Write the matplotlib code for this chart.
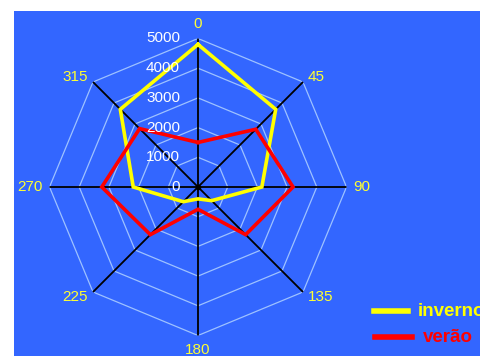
import numpy as np
import matplotlib
matplotlib.use("Agg")
import matplotlib.pyplot as plt
from matplotlib.patches import Rectangle

# Directions (degrees) and seasonal values
directions = [0, 45, 90, 135, 180, 225, 270, 315]
inverno = [4800, 3700, 2150, 650, 400, 700, 2180, 3700]
verao = [1500, 2750, 3200, 2270, 750, 2270, 3240, 2780]
ring_values = [0, 1000, 2000, 3000, 4000, 5000]
series_names = ["inverno", "verão"]

plt.rcParams["font.family"] = ["Liberation Sans", "DejaVu Sans"]

W, H, DPI = 481, 356, 100
fig = plt.figure(figsize=(W / DPI, H / DPI), dpi=DPI, facecolor="white")

panel_blue = "#3366FF"
grid_col = "#9EC2FF"
label_yellow = "#FFFF33"

# Blue plot panel behind everything
fig.patches.append(Rectangle((14 / W, 0), 1 - 14 / W, (H - 11) / H,
                             transform=fig.transFigure, facecolor=panel_blue,
                             edgecolor="none", zorder=-10))

cx, cy, rad = 198, 187, 148.5
ax = fig.add_axes([(cx - rad) / W, (H - cy - rad) / H, 2 * rad / W, 2 * rad / H],
                  projection="polar")
ax.set_zorder(1)
ax.set_theta_zero_location("N")
ax.set_theta_direction(-1)
ax.set_ylim(0, ring_values[-1])
ax.patch.set_visible(False)
ax.spines["polar"].set_visible(False)
ax.grid(False)
ax.set_xticks([])
ax.set_yticks([])

theta = np.deg2rad(directions)
theta_closed = np.append(theta, theta[0])

# Octagonal rings
for rv in ring_values[1:]:
    ax.plot(theta_closed, [rv] * len(theta_closed), color=grid_col, lw=0.9, zorder=1)

# Spokes
for t in theta:
    ax.plot([t, t], [0, ring_values[-1]], color="black", lw=1.3, zorder=2)
ax.plot([0], [0], marker="o", ms=3, color="black", zorder=2)

# Series
ax.plot(theta_closed, inverno + inverno[:1], color="#FFFF00", lw=2.6, zorder=3,
        solid_joinstyle="miter")
ax.plot(theta_closed, verao + verao[:1], color="#FF0000", lw=2.6, zorder=4,
        solid_joinstyle="miter")

# Direction labels just outside the outer ring
for d, t in zip(directions, theta):
    s, c = np.sin(t), np.cos(t)
    ha = "left" if s > 0.3 else ("right" if s < -0.3 else "center")
    dy = 8 * c if abs(c) > 0.9 else 0
    ax.annotate(str(d), xy=(t, ring_values[-1]), xycoords="data",
                xytext=(7 * s, 7 * c + dy),
                textcoords="offset pixels", ha=ha, va="center",
                color=label_yellow, fontsize=11, annotation_clip=False)

# Radial value labels
for rv in ring_values:
    ax.annotate(str(rv), xy=(0, rv), xycoords="data", xytext=(-18, 0),
                textcoords="offset pixels", ha="right", va="center",
                color="white", fontsize=11, annotation_clip=False, zorder=5)

# Legend
leg_items = [("#FFFF00", series_names[0], 374, 408, 418, 311),
             ("#FF0000", series_names[1], 375, 412, 423, 337)]
for col, name, x0, x1, xt, y in leg_items:
    fig.add_artist(plt.Line2D([x0 / W, x1 / W], [1 - y / H, 1 - y / H],
                              transform=fig.transFigure, color=col, lw=4))
    fig.text(xt / W, 1 - y / H, name, color=col, fontsize=13.5, fontweight="bold",
             ha="left", va="center")

fig.savefig("out.png", dpi=DPI, facecolor=fig.get_facecolor())
